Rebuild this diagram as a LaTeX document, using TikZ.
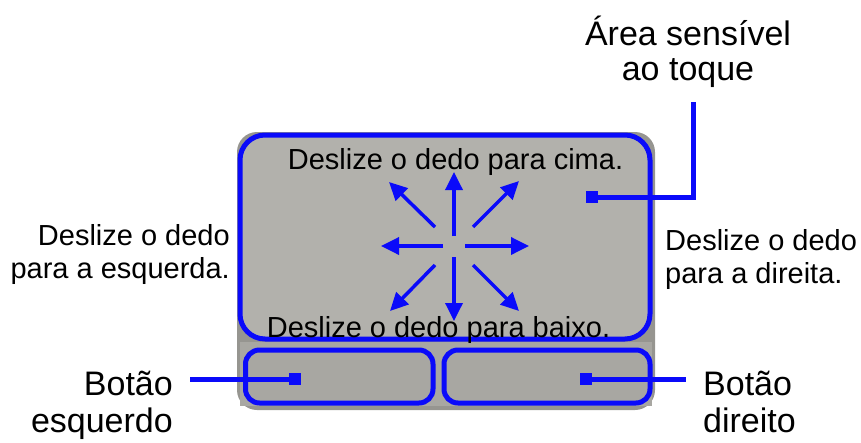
\documentclass[tikz,border=0pt]{standalone}
\usepackage{fontspec}
\setmainfont{Liberation Sans}
\usetikzlibrary{arrows.meta}
\definecolor{padblue}{RGB}{10,10,250}
\definecolor{padgray}{RGB}{178,177,172}
\definecolor{basegray}{RGB}{150,149,144}
\definecolor{btngray}{RGB}{168,167,162}
\tikzset{
  frame/.style={draw=padblue, line width=5pt},
  lead/.style={draw=padblue, line width=5pt},
  marker/.style={fill=padblue, draw=none, minimum size=12pt, inner sep=0pt},
  swipe/.style={draw=padblue, line width=3.5pt, -{Triangle[length=18pt,width=17pt]}},
  midtxt/.style={font=\fontsize{29}{34}\selectfont, inner sep=0pt},
  bigtxt/.style={font=\fontsize{34}{38}\selectfont, inner sep=0pt},
}
\begin{document}
\begin{tikzpicture}[x=1pt,y=-1pt]
\useasboundingbox (0,0) rectangle (861,442);
% body
\fill[basegray, rounded corners=20pt] (237,132) rectangle (655,410);
\fill[btngray] (240,342) rectangle (652,406);
% touch area
\draw[frame, fill=padgray, rounded corners=25pt] (240,135) rectangle (650,339);
% buttons
\draw[frame, fill=btngray, rounded corners=14pt] (245.5,350) rectangle (433,403);
\draw[frame, fill=btngray, rounded corners=14pt] (444,350) rectangle (650,403);
% markers
\node[marker] (mArea) at (592,197) {};
\node[marker] (mLeft) at (295,379) {};
\node[marker] (mRight) at (586,379) {};
\coordinate (aBend) at (693,197);
\coordinate (aEnd) at (693,102);
\coordinate (lEnd) at (190,379);
\coordinate (rEnd) at (686,379);
\draw[lead] (mArea.center) -- (aBend) -- (aEnd);
\draw[lead] (mLeft.center) -- (lEnd);
\draw[lead] (mRight.center) -- (rEnd);
% swipe arrows
\coordinate (uS) at (454,236); \coordinate (uT) at (454,172);
\coordinate (dS) at (454,257); \coordinate (dT) at (454,321);
\coordinate (lS) at (443,246); \coordinate (lT) at (381,246);
\coordinate (rS) at (465,246); \coordinate (rT) at (529,246);
\coordinate (nwS) at (435,227); \coordinate (nwT) at (389,182);
\coordinate (neS) at (473,227); \coordinate (neT) at (519,181);
\coordinate (swS) at (435,265); \coordinate (swT) at (390,311);
\coordinate (seS) at (473,265); \coordinate (seT) at (519,311);
\draw[swipe] (uS) -- (uT);
\draw[swipe] (dS) -- (dT);
\draw[swipe] (lS) -- (lT);
\draw[swipe] (rS) -- (rT);
\draw[swipe] (nwS) -- (nwT);
\draw[swipe] (neS) -- (neT);
\draw[swipe] (swS) -- (swT);
\draw[swipe] (seS) -- (seT);
% texts
\node[midtxt, anchor=base] (tUp) at (455.5,169) {Deslize o dedo para cima.};
\node[midtxt, anchor=base] (tDown) at (438.5,337) {Deslize o dedo para baixo.};
\node[midtxt, anchor=base east] (tL1) at (230,245) {Deslize o dedo};
\node[midtxt, anchor=base east] (tL2) at (230,278) {para a esquerda.};
\node[midtxt, anchor=base west] (tR1) at (665,250) {Deslize o dedo};
\node[midtxt, anchor=base west] (tR2) at (665,283) {para a direita.};
\node[bigtxt, anchor=base] (tA1) at (688,45) {Área sensível};
\node[bigtxt, anchor=base] (tA2) at (688,80) {ao toque};
\node[bigtxt, anchor=base east] (tB1) at (173,395) {Botão};
\node[bigtxt, anchor=base east] (tB2) at (173,432) {esquerdo};
\node[bigtxt, anchor=base west] (tC1) at (703,395) {Botão};
\node[bigtxt, anchor=base west] (tC2) at (703,432) {direito};
\end{tikzpicture}
\end{document}
